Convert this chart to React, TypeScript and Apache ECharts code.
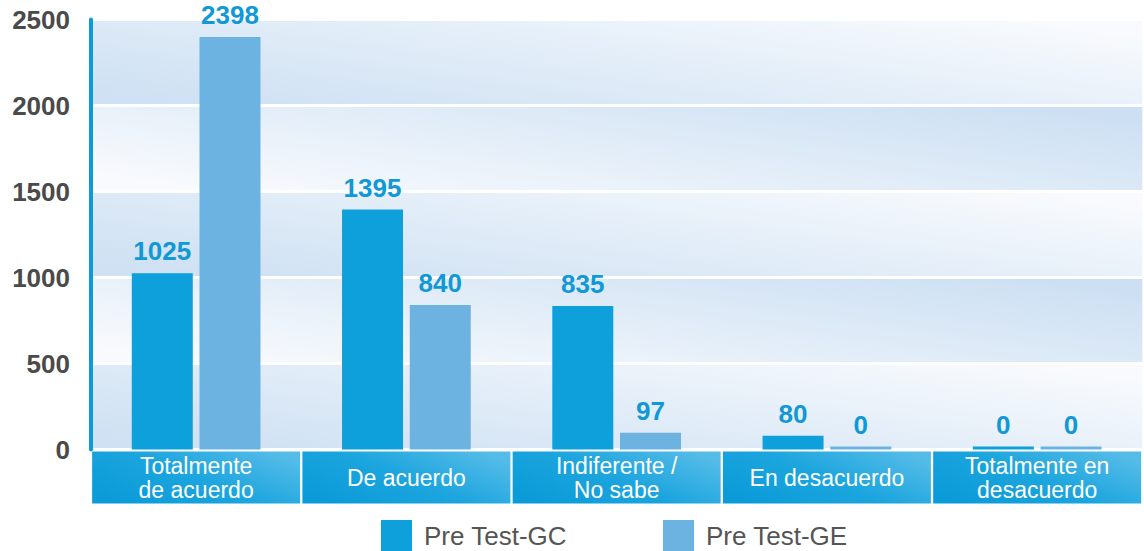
import React, { useEffect, useRef } from "react";
import * as echarts from "echarts";

const categories = [
  "Totalmente\nde acuerdo",
  "De acuerdo",
  "Indiferente /\nNo sabe",
  "En desacuerdo",
  "Totalmente en\ndesacuerdo",
];
const seriesNames = ["Pre Test-GC", "Pre Test-GE"];
const preTestGC = [1025, 1395, 835, 80, 0];
const preTestGE = [2398, 840, 97, 0, 0];
const yTicks = { min: 0, max: 2500, interval: 500 };

const FONT = "Liberation Sans";

export default function App() {
  const ref = useRef<HTMLDivElement>(null);
  useEffect(() => {
    document.body.style.margin = "0";
    if (!ref.current) return;
    const chart = echarts.init(ref.current, null, { renderer: "svg" });
    const darkLeft = new echarts.graphic.LinearGradient(0, 0.8, 1, 0.2, [
      { offset: 0, color: "#cfe1f3" },
      { offset: 0.5, color: "#e2edf8" },
      { offset: 1, color: "#f8fafd" },
    ]);
    const darkRight = new echarts.graphic.LinearGradient(0, 0.8, 1, 0.2, [
      { offset: 0, color: "#f8fafd" },
      { offset: 0.5, color: "#e2edf8" },
      { offset: 1, color: "#cde0f3" },
    ]);
    const boxGrad = new echarts.graphic.LinearGradient(0, 0.8, 1, 0.2, [
      { offset: 0, color: "#0a9bd8" },
      { offset: 0.5, color: "#1ca5de" },
      { offset: 1, color: "#55bce8" },
    ]);
    const labelStyle = {
      show: true,
      position: "top",
      distance: 9,
      color: "#1198d7",
      fontSize: 26,
      fontWeight: "bold",
      fontFamily: FONT,
    };
    const legendBase = {
      top: 515,
      itemWidth: 31,
      itemHeight: 31,
      icon: "rect",
      textStyle: {
        fontSize: 26,
        lineHeight: 28,
        color: "#555",
        fontFamily: FONT,
        padding: [0, 0, 0, 7],
      },
    };
    chart.setOption({
      animation: false,
      grid: { left: 91, right: 0, top: 19.5, bottom: 101.5 },
      legend: [
        { ...legendBase, data: [seriesNames[0]], left: 376 },
        { ...legendBase, data: [seriesNames[1]], left: 658 },
      ],
      xAxis: {
        type: "category",
        data: categories,
        axisLine: { show: false },
        axisTick: { show: false },
        axisLabel: {
          interval: 0,
          margin: 2,
          width: 208,
          align: "center",
          backgroundColor: boxGrad,
          padding: [2, 0, 2, 0],
          formatter: (v: string) =>
            v.includes("\n")
              ? v.split("\n").map((l) => `{b|${l}}`).join("\n")
              : `{a|${v}}`,
          rich: {
            a: { fontSize: 23, lineHeight: 48, color: "#fff", fontFamily: FONT },
            b: { fontSize: 23, lineHeight: 24, color: "#fff", fontFamily: FONT },
          },
        },
      },
      yAxis: {
        type: "value",
        min: yTicks.min,
        max: yTicks.max,
        interval: yTicks.interval,
        axisLine: { show: true, lineStyle: { color: "#0e9ad8", width: 4 } },
        axisTick: { show: false },
        axisLabel: {
          margin: 21,
          fontSize: 26,
          fontWeight: "bold",
          color: "#4a4a4a",
          fontFamily: FONT,
          formatter: (v: number) => String(v),
        },
        splitLine: { show: true, lineStyle: { color: "#ffffff", width: 3 } },
        splitArea: {
          show: true,
          areaStyle: { color: [darkLeft, darkRight, darkLeft, darkRight, darkLeft] },
        },
      },
      series: [
        {
          name: seriesNames[0],
          type: "bar",
          data: preTestGC,
          barWidth: 61,
          barGap: "11%",
          barMinHeight: 3,
          itemStyle: { color: "#0ea0da" },
          label: labelStyle,
        },
        {
          name: seriesNames[1],
          type: "bar",
          data: preTestGE,
          barWidth: 61,
          barGap: "11%",
          barMinHeight: 3,
          itemStyle: { color: "#6db3e1" },
          label: labelStyle,
        },
      ],
    });
    return () => chart.dispose();
  }, []);
  return <div ref={ref} style={{ width: 1144, height: 551 }} />;
}
